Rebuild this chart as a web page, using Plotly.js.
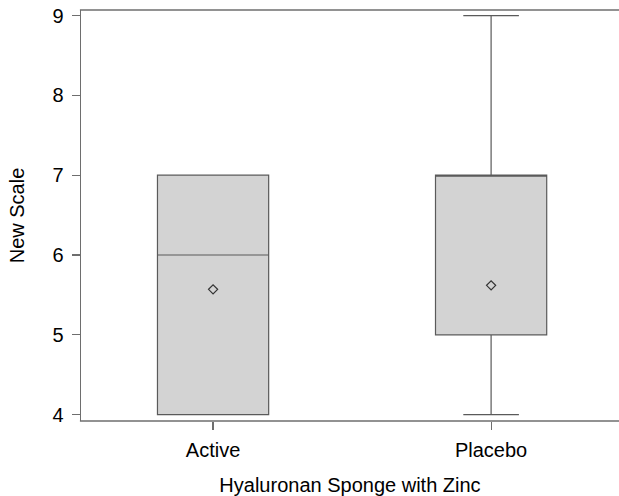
<!DOCTYPE html>
<html>
<head>
<meta charset="utf-8">
<script src="https://cdn.plot.ly/plotly-3.0.1.min.js"></script>
<style>html,body{margin:0;padding:0;background:#fff;}#chart{width:619px;height:496px;}</style>
</head>
<body>
<div id="chart"></div>
<script>
// Data
const groups = ["Active", "Placebo"];
const lowerWhisker = [4, 4];
const q1 = [4, 5];
const median = [6, 7];
const q3 = [7, 7];
const upperWhisker = [7, 9];
const means = [5.57, 5.62];
const yTicks = [4, 5, 6, 7, 8, 9];

const font = {family: "Liberation Sans, Arial, sans-serif", size: 20, color: "#000"};

const boxTrace = {
  type: "box",
  x: groups,
  q1: q1,
  median: median,
  q3: q3,
  lowerfence: lowerWhisker,
  upperfence: upperWhisker,
  boxpoints: false,
  width: 0.4,
  whiskerwidth: 0.5,
  fillcolor: "#d3d3d3",
  line: {color: "#5a5a5a", width: 1.2},
  hoverinfo: "skip",
  showlegend: false
};

const meanTrace = {
  type: "scatter",
  mode: "markers",
  x: groups,
  y: means,
  marker: {symbol: "diamond-open", size: 7, color: "#333", line: {width: 1.2, color: "#333"}},
  hoverinfo: "skip",
  showlegend: false
};

const layout = {
  width: 619,
  height: 496,
  margin: {l: 81, r: 0, t: 10, b: 75},
  paper_bgcolor: "#fff",
  plot_bgcolor: "#fff",
  font: font,
  showlegend: false,
  xaxis: {
    type: "category",
    range: [-0.475, 1.46],
    showline: false,
    ticks: "outside",
    ticklen: 8,
    tickcolor: "#6e6e6e",
    tickwidth: 1.2,
    ticklabelstandoff: 3,
    showgrid: false,
    zeroline: false,
    tickfont: font,
    title: {text: "Hyaluronan Sponge with Zinc", font: font, standoff: 21}
  },
  yaxis: {
    range: [3.92, 9.07],
    tickvals: yTicks,
    showline: true,
    linecolor: "#6e6e6e",
    linewidth: 1.5,
    ticks: "outside",
    ticklen: 8,
    tickcolor: "#6e6e6e",
    tickwidth: 1.2,
    ticklabelstandoff: 4,
    showgrid: false,
    zeroline: false,
    tickfont: font,
    title: {text: "New Scale", font: font, standoff: 22}
  },
  shapes: [
    {type: "line", xref: "paper", yref: "paper", x0: -0.002, x1: 1.02, y0: 1, y1: 1,
     line: {color: "#6e6e6e", width: 1.5}},
    {type: "line", xref: "paper", yref: "paper", x0: -0.002, x1: 1.02, y0: 0, y1: 0,
     line: {color: "#6e6e6e", width: 1.5}}
  ]
};

Plotly.newPlot("chart", [boxTrace, meanTrace], layout, {displayModeBar: false, staticPlot: true});
</script>
</body>
</html>
